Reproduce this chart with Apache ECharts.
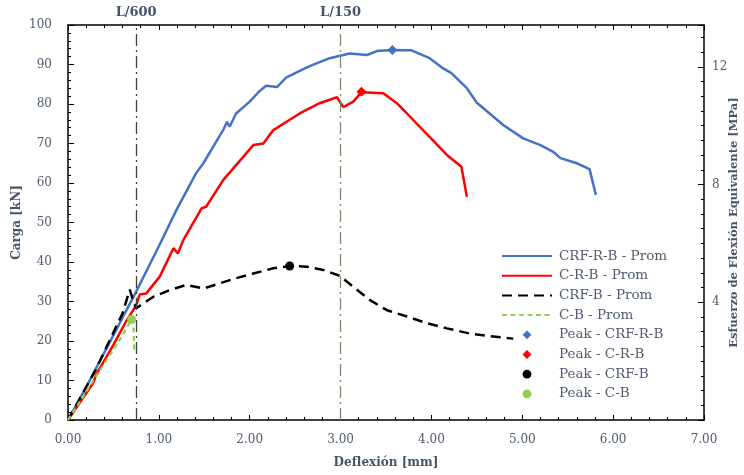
<!DOCTYPE html>
<html lang="es">

<head>
  <meta charset="UTF-8">
  <title>Carga vs Deflexión</title>
  <script src="https://cdn.jsdelivr.net/npm/echarts@6/dist/echarts.min.js"></script>
  <style>
    body { margin: 0; background: #fff; }
    #chart { width: 744px; height: 475px; }
  </style>
</head>

<body>
  <div id="chart"></div>
  <script>
    // curves: deflexion [mm] and carga [kN]
    const crfRBx = [0, 0.25, 0.5, 0.75, 1.0, 1.19, 1.41, 1.49, 1.71, 1.75, 1.78, 1.85, 2.0, 2.11, 2.18, 2.3, 2.4, 2.55, 2.66, 2.88, 3.1, 3.29, 3.4, 3.57, 3.78, 3.98, 4.13, 4.22, 4.39, 4.5, 4.64, 4.79, 5.01, 5.2, 5.34, 5.42, 5.6, 5.74, 5.81];
    const crfRBy = [0, 10.5, 21.5, 32.5, 44, 53, 62.5, 65, 73.5, 75.5, 74.3, 77.6, 80.6, 83.3, 84.6, 84.3, 86.7, 88.4, 89.6, 91.6, 92.8, 92.4, 93.4, 93.7, 93.6, 91.6, 89.0, 87.8, 84.0, 80.3, 77.6, 74.7, 71.3, 69.6, 67.9, 66.3, 65.0, 63.5, 57.0];

    const cRBx = [0, 0.28, 0.31, 0.33, 0.5, 0.64, 0.75, 0.79, 0.86, 1.01, 1.16, 1.21, 1.27, 1.47, 1.52, 1.71, 2.04, 2.15, 2.26, 2.55, 2.77, 2.96, 3.03, 3.14, 3.23, 3.47, 3.62, 3.71, 3.84, 3.98, 4.17, 4.33, 4.39];
    const cRBy = [0, 9.5, 11.5, 11.3, 19, 25, 29, 31.8, 32, 36.3, 43.5, 42.2, 45.6, 53.6, 54.0, 60.8, 69.6, 70.0, 73.4, 77.6, 80.2, 81.7, 79.2, 80.6, 83.0, 82.7, 80.2, 78.1, 75.0, 71.7, 67.1, 64.1, 56.5];

    const crfBx = [0, 0.3, 0.6, 0.68, 0.72, 0.75, 0.83, 0.94, 1.12, 1.3, 1.49, 1.67, 1.85, 2.04, 2.26, 2.44, 2.63, 2.81, 2.99, 3.14, 3.32, 3.51, 3.73, 3.95, 4.17, 4.42, 4.61, 4.9];
    const crfBy = [0, 12.5, 27, 33, 30, 28.3, 29.5, 31.2, 32.9, 34.2, 33.3, 34.6, 35.9, 37.1, 38.4, 39.0, 38.8, 38.0, 36.5, 33.7, 30.4, 27.8, 26.2, 24.5, 23.2, 21.9, 21.3, 20.6];

    const cBx = [0, 0.28, 0.57, 0.70, 0.72, 0.73];
    const cBy = [0, 10, 20.3, 25.5, 23.5, 17.5];

    // peaks [deflexion, carga]
    const peakCrfRB = [3.57, 93.7];
    const peakCRB = [3.23, 83.1];
    const peakCrfB = [2.44, 39.0];
    const peakCB = [0.70, 25.5];

    // deflection limits
    const limitX = [0.75, 3.0];
    const limitNames = ['L/600', 'L/150'];

    const names = ['CRF-R-B - Prom', 'C-R-B - Prom', 'CRF-B - Prom', 'C-B - Prom',
      'Peak - CRF-R-B', 'Peak - C-R-B', 'Peak - CRF-B', 'Peak - C-B'];

    const font = 'DejaVu Serif';
    const labelColor = '#515c70';
    const nameColor = '#44546a';

    function pairs(xs, ys) {
      return xs.map(function (x, i) { return [x, ys[i]]; });
    }

    let myChart = echarts.init(document.getElementById('chart'));

    let tickStyle = { color: '#000', width: 1 };

    // legend: plain lines for the curves, only the marker for the peaks
    let legendData = names.map(function (n, i) {
      if (i < 4) return { name: n, itemStyle: { opacity: 0 } };
      return { name: n };
    });

    function peakSeries(name, point, symbol, size, color) {
      return {
        name: name,
        type: 'line',
        data: [point],
        symbol: symbol,
        symbolSize: size,
        showSymbol: true,
        color: color,
        itemStyle: { color: color },
        lineStyle: { width: 0, opacity: 0 }
      };
    }

    let option = {
      animation: false,
      grid: { left: 68, right: 40, top: 25, bottom: 55, outerBoundsMode: 'none' },
      legend: {
        orient: 'vertical',
        left: 496,
        top: 244,
        itemWidth: 50,
        itemHeight: 11,
        itemGap: 5.7,
        data: legendData,
        textStyle: { fontFamily: font, fontSize: 13.5, color: labelColor, padding: [0, 0, 0, 2] }
      },
      xAxis: [
        {
          type: 'value',
          min: 0,
          max: 7,
          interval: 1,
          name: 'Deflexión [mm]',
          nameLocation: 'middle',
          nameGap: 37,
          nameTextStyle: { fontFamily: font, fontSize: 12, fontWeight: 'bold', color: nameColor },
          axisLine: { onZero: false, lineStyle: { color: '#000', width: 1.5 } },
          axisTick: { inside: true, length: 5, lineStyle: tickStyle },
          minorTick: { show: true, splitNumber: 5, length: 3, lineStyle: tickStyle },
          splitLine: { show: false },
          axisLabel: {
            margin: 14, fontFamily: font, fontSize: 12, color: labelColor,
            formatter: function (v) { return v.toFixed(2); }
          }
        },
        {
          type: 'value',
          position: 'top',
          min: 0,
          max: 7,
          interval: 1,
          axisLine: { onZero: false, lineStyle: { color: '#000', width: 1.5 } },
          axisTick: { inside: true, length: 5, lineStyle: tickStyle },
          minorTick: { show: true, splitNumber: 5, length: 3, lineStyle: tickStyle },
          splitLine: { show: false },
          axisLabel: { show: false }
        }
      ],
      yAxis: [
        {
          type: 'value',
          min: 0,
          max: 100,
          interval: 10,
          name: 'Carga [kN]',
          nameLocation: 'middle',
          nameGap: 45,
          nameMoveOverlap: false,
          nameTextStyle: { fontFamily: font, fontSize: 12, fontWeight: 'bold', color: nameColor },
          axisLine: { show: true, onZero: false, lineStyle: { color: '#000', width: 1.5 } },
          axisTick: { inside: true, length: 6, lineStyle: tickStyle },
          minorTick: { show: true, splitNumber: 5, length: 3, lineStyle: tickStyle },
          splitLine: { show: false },
          axisLabel: { margin: 16, fontFamily: font, fontSize: 12, color: labelColor }
        },
        {
          type: 'value',
          position: 'right',
          min: 0,
          max: 13.42,
          interval: 4,
          name: 'Esfuerzo de Flexión Equivalente [MPa]',
          nameLocation: 'middle',
          nameGap: 24,
          nameRotate: 90,
          nameMoveOverlap: false,
          nameTextStyle: { fontFamily: font, fontSize: 11.5, fontWeight: 'bold', color: nameColor },
          axisLine: { show: true, onZero: false, lineStyle: { color: '#000', width: 1.5 } },
          axisTick: { inside: true, length: 6, lineStyle: tickStyle },
          minorTick: { show: true, splitNumber: 8, length: 3, lineStyle: tickStyle },
          splitLine: { show: false },
          axisLabel: {
            margin: 8, fontFamily: font, fontSize: 12, color: labelColor,
            showMinLabel: false, showMaxLabel: false
          }
        }
      ],
      series: [
        {
          name: names[0],
          type: 'line',
          data: pairs(crfRBx, crfRBy),
          symbol: 'none',
          color: '#4472c4',
          lineStyle: { color: '#4472c4', width: 2.5 },
          markLine: {
            silent: true,
            symbol: ['none', 'none'],
            data: [
              {
                xAxis: limitX[0],
                lineStyle: { color: '#404040', width: 1.3, type: [12, 4, 2, 4] },
                label: { formatter: limitNames[0] }
              },
              {
                xAxis: limitX[1],
                lineStyle: { color: '#7b8c6c', width: 1.3, type: [12, 4, 2, 4] },
                label: { formatter: limitNames[1] }
              }
            ],
            label: {
              position: 'end', distance: 6,
              fontFamily: font, fontSize: 13, fontWeight: 'bold', color: nameColor
            }
          }
        },
        {
          name: names[1],
          type: 'line',
          data: pairs(cRBx, cRBy),
          symbol: 'none',
          color: '#ff0000',
          lineStyle: { color: '#ff0000', width: 2.5 }
        },
        {
          name: names[2],
          type: 'line',
          data: pairs(crfBx, crfBy),
          symbol: 'none',
          color: '#000',
          lineStyle: { color: '#000', width: 2.5, type: [10, 6] }
        },
        {
          name: names[3],
          type: 'line',
          data: pairs(cBx, cBy),
          symbol: 'none',
          color: '#92d050',
          lineStyle: { color: '#92d050', width: 2.2, type: [5, 3.5] }
        },
        peakSeries(names[4], peakCrfRB, 'diamond', 10, '#4472c4'),
        peakSeries(names[5], peakCRB, 'diamond', 10, '#ff0000'),
        peakSeries(names[6], peakCrfB, 'circle', 9, '#000'),
        peakSeries(names[7], peakCB, 'circle', 9, '#92d050')
      ]
    };

    myChart.setOption(option);

    window.onresize = function () {
      myChart.resize();
    }
  </script>
</body>

</html>
